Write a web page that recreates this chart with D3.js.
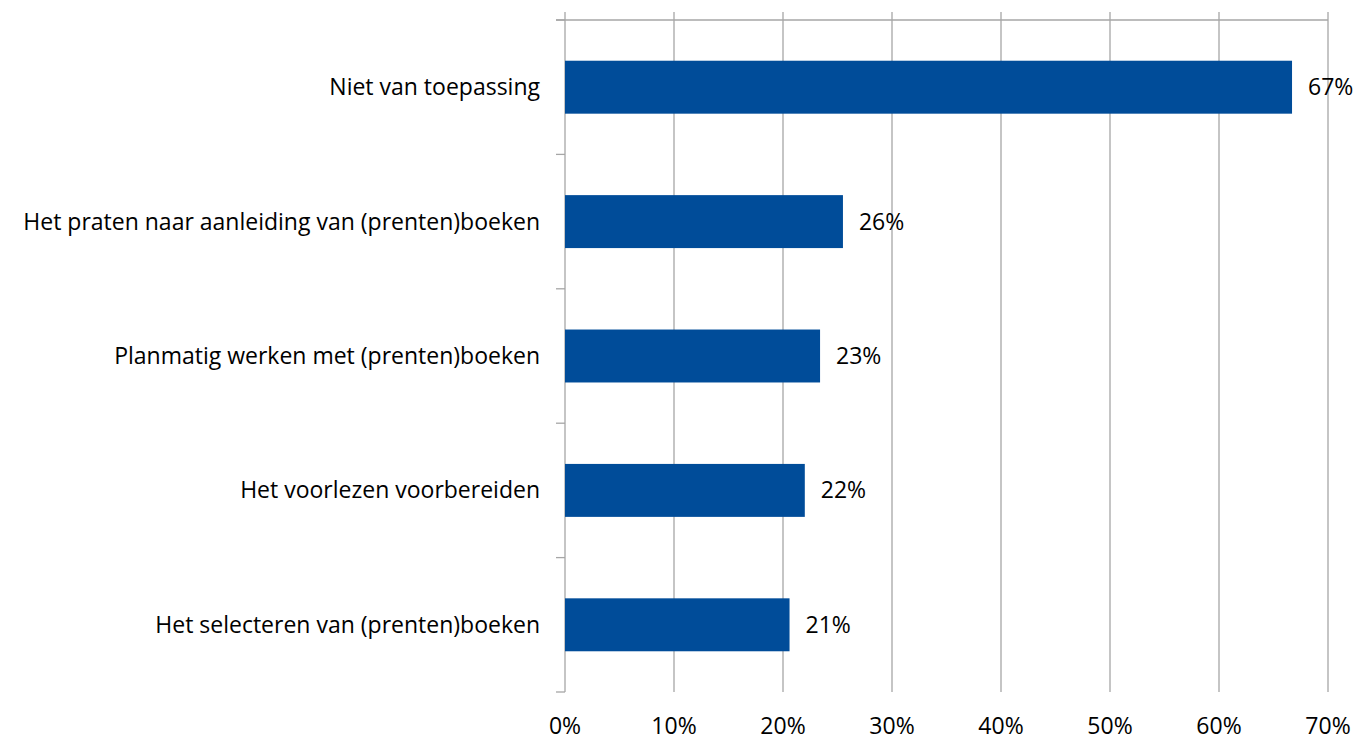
<!DOCTYPE html>
<html>
<head>
<meta charset="utf-8">
<script src="https://cdn.jsdelivr.net/npm/d3@7"></script>
<style>
  body { margin: 0; background: #fff; }
  text { font-family: "Open Sans", Lato, sans-serif; fill: #000; }
</style>
</head>
<body>
<div id="chart"></div>
<script>
// chart data
var categories = [
  "Niet van toepassing",
  "Het praten naar aanleiding van (prenten)boeken",
  "Planmatig werken met (prenten)boeken",
  "Het voorlezen voorbereiden",
  "Het selecteren van (prenten)boeken"
];
var values = [66.7, 25.5, 23.4, 22.0, 20.6];
var valueLabels = ["67%", "26%", "23%", "22%", "21%"];
var xTicks = [0, 10, 20, 30, 40, 50, 60, 70];

var width = 1355,
    height = 739;
var plotLeft = 565, plotRight = 1328, plotTop = 20, plotBottom = 692;
var fontSize = "23px";

var svg = d3.select("#chart")
  .append("svg")
    .attr("width", width)
    .attr("height", height);

var x = d3.scaleLinear()
  .domain([0, 70])
  .range([plotLeft, plotRight]);

var y = d3.scaleBand()
  .domain(categories)
  .range([plotTop, plotBottom])
  .paddingInner(0.606)
  .paddingOuter(0.303);

// vertical gridlines (with small tick above the top axis line)
svg.selectAll(".grid")
  .data(xTicks)
  .enter()
  .append("line")
    .attr("x1", function(d) { return x(d); })
    .attr("x2", function(d) { return x(d); })
    .attr("y1", plotTop - 8)
    .attr("y2", plotBottom)
    .attr("stroke", "#a6a6a6")
    .attr("stroke-width", 1.3);

// top horizontal axis line
svg.append("line")
  .attr("x1", plotLeft - 9)
  .attr("x2", plotRight)
  .attr("y1", plotTop)
  .attr("y2", plotTop)
  .attr("stroke", "#a6a6a6")
  .attr("stroke-width", 1.3);

// category tick marks on the left
var step = y.step();
var catTicks = d3.range(categories.length + 1).map(function(i) { return plotTop + i * step; });
svg.selectAll(".ctick")
  .data(catTicks)
  .enter()
  .append("line")
    .attr("x1", plotLeft - 9)
    .attr("x2", plotLeft)
    .attr("y1", function(d) { return d; })
    .attr("y2", function(d) { return d; })
    .attr("stroke", "#a6a6a6")
    .attr("stroke-width", 1.3);

// bars
svg.selectAll(".bar")
  .data(categories)
  .enter()
  .append("rect")
    .attr("x", x(0))
    .attr("y", function(d) { return y(d); })
    .attr("width", function(d, i) { return x(values[i]) - x(0); })
    .attr("height", y.bandwidth())
    .attr("fill", "#004c99");

// category labels
svg.selectAll(".clabel")
  .data(categories)
  .enter()
  .append("text")
    .attr("x", plotLeft - 25)
    .attr("y", function(d) { return y(d) + y.bandwidth() / 2; })
    .attr("dy", "0.35em")
    .attr("text-anchor", "end")
    .style("font-size", fontSize)
    .text(function(d) { return d; });

// value labels
svg.selectAll(".vlabel")
  .data(categories)
  .enter()
  .append("text")
    .attr("x", function(d, i) { return x(values[i]) + 16; })
    .attr("y", function(d) { return y(d) + y.bandwidth() / 2; })
    .attr("dy", "0.35em")
    .style("font-size", fontSize)
    .text(function(d, i) { return valueLabels[i]; });

// x tick labels at the bottom
svg.selectAll(".xlabel")
  .data(xTicks)
  .enter()
  .append("text")
    .attr("x", function(d) { return x(d); })
    .attr("y", 726)
    .attr("dy", "0.35em")
    .attr("text-anchor", "middle")
    .style("font-size", fontSize)
    .text(function(d) { return d + "%"; });
</script>
</body>
</html>
